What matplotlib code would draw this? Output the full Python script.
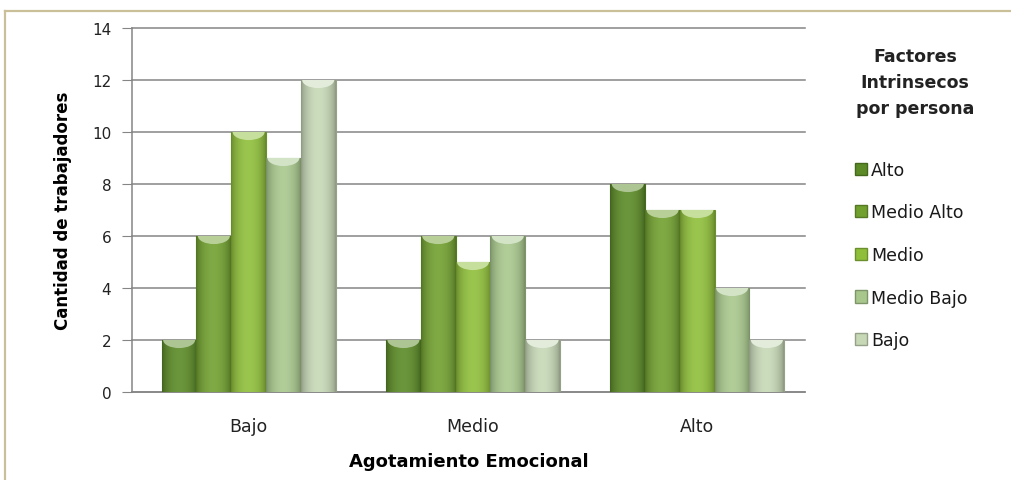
import numpy as np
import matplotlib
matplotlib.use("Agg")
import matplotlib.pyplot as plt
import matplotlib.colors as mcolors
from matplotlib.patches import Ellipse, Patch
from matplotlib.lines import Line2D

groups = ['Bajo', 'Medio', 'Alto']
series = ['Alto', 'Medio Alto', 'Medio', 'Medio Bajo', 'Bajo']
values = [
    [2, 2, 8],    # Alto
    [6, 6, 7],    # Medio Alto
    [10, 5, 7],   # Medio
    [9, 6, 4],    # Medio Bajo
    [12, 2, 2],   # Bajo
]
colors = ['#5b8a26', '#71a02f', '#8fbf3a', '#a8c78c', '#c6d8b6']
yticks = [0, 2, 4, 6, 8, 10, 12, 14]


def cylinder(color, n=64):
    # horizontal shading: dark edges, lighter middle
    base = np.array(mcolors.to_rgb(color))
    t = np.linspace(0, 1, n)
    k = np.sin(np.pi * t) ** 0.6
    rgb = base[None, :] * (0.70 + 0.30 * k[:, None]) + (1 - base[None, :]) * 0.10 * k[:, None]
    return np.clip(rgb, 0, 1)[None, :, :]


def lighter(color, amt):
    base = np.array(mcolors.to_rgb(color))
    return tuple(base + (1 - base) * amt)


def darker(color, amt):
    base = np.array(mcolors.to_rgb(color))
    return tuple(base * (1 - amt))


fig = plt.figure(figsize=(10.11, 4.81), dpi=100)
ax = fig.add_axes([132 / 1011, 1 - 393 / 481, 673 / 1011, 364 / 481])

x = np.arange(len(groups))
bw = 0.155
for j, (name, vals, c) in enumerate(zip(series, values, colors)):
    pos = x + (j - 2) * bw
    bars = ax.bar(pos, vals, width=bw, color=c, edgecolor=darker(c, 0.25),
                  linewidth=0.8, zorder=3, label=name)
    for b in bars:
        x0, h, w = b.get_x(), b.get_height(), b.get_width()
        im = ax.imshow(cylinder(c), extent=[x0, x0 + w, 0, h], aspect='auto',
                       interpolation='bicubic', zorder=3.1)
        im.set_clip_path(b)
        cap = Ellipse((x0 + w / 2, h), w * 0.92, 0.62, facecolor=lighter(c, 0.5),
                      edgecolor='none', zorder=3.2)
        ax.add_patch(cap)
        cap.set_clip_path(b)

ax.set_xlim(-0.52, 2.48)
ax.set_ylim(0, 14)
ax.set_yticks(yticks)
ax.set_xticks(x)
ax.set_xticklabels(groups)
ax.grid(axis='y', color='#858585', linewidth=1.1, zorder=0)
for gl in ax.get_ygridlines():
    gl.set_clip_on(False)
ax.set_axisbelow(True)
for s in ['top', 'right']:
    ax.spines[s].set_visible(False)
for s in ['left', 'bottom']:
    ax.spines[s].set_color('#858585')
    ax.spines[s].set_linewidth(1.1)
ax.tick_params(axis='y', length=7, color='#858585', pad=8, labelsize=11, labelcolor='#222222')
ax.tick_params(axis='x', length=0, pad=18, labelsize=12.5, labelcolor='#222222')

ax.set_ylabel('Cantidad de trabajadores', fontsize=12, fontweight='bold', labelpad=14)
ax.set_xlabel('Agotamiento Emocional', fontsize=13, fontweight='bold', labelpad=12)

# legend: title drawn on its own so its line spacing can be opened up
fig.text(915 / 1011, 1 - 83 / 481, 'Factores\nIntrinsecos\npor persona',
         ha='center', va='center', multialignment='center', linespacing=1.55,
         fontsize=12.5, fontweight='bold', color='#222222')
handles = [Patch(facecolor=c, edgecolor=darker(c, 0.25)) for c in colors]
leg = fig.legend(handles, series, loc='upper left', bbox_to_anchor=(846 / 1011, 1 - 153 / 481),
                 frameon=False, fontsize=12.5,
                 handlelength=0.7, handleheight=0.7, handletextpad=0.25,
                 labelspacing=1.42, borderpad=0)
for t in leg.get_texts():
    t.set_color('#1a1a1a')

# frame around the chart
fig.add_artist(Line2D([5 / 1011, 1], [1 - 12 / 481] * 2, transform=fig.transFigure,
                      color='#c9c09a', linewidth=1.6))
fig.add_artist(Line2D([5 / 1011] * 2, [0, 1 - 12 / 481], transform=fig.transFigure,
                      color='#c9c09a', linewidth=1.6))

fig.savefig('out.png', dpi=100)
